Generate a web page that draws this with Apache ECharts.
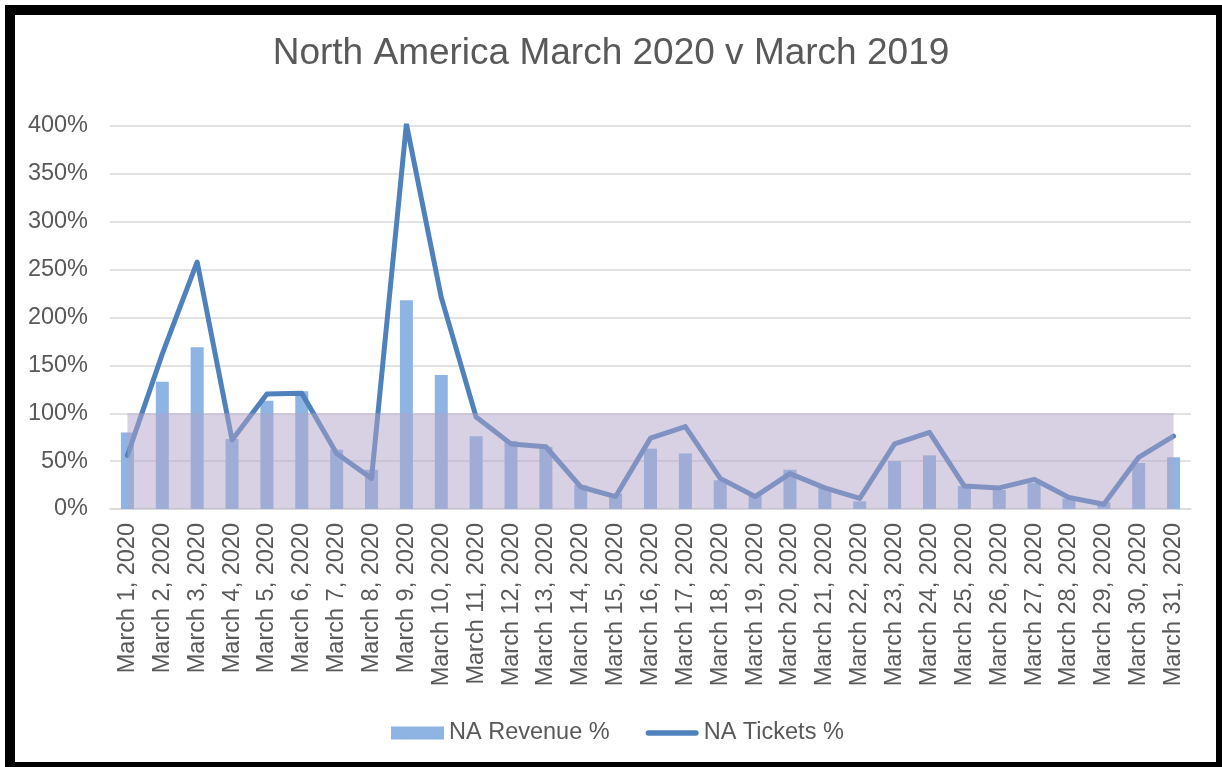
<!DOCTYPE html>
<html>
<head>
<meta charset="utf-8">
<script src="https://cdn.jsdelivr.net/npm/echarts@6/dist/echarts.min.js"></script>
<style>
  html, body { margin: 0; padding: 0; background: #fff; }
  #chart { position: absolute; left: 0; top: 0; width: 1222px; height: 767px; }
  #frame {
    position: absolute; left: 5px; top: 5px; right: 0; bottom: 0;
    border-style: solid; border-color: #000;
    border-width: 10px 6px 5px 10px;
    pointer-events: none;
  }
</style>
</head>
<body>
<div id="chart"></div>
<div id="frame"></div>
<script>
  // categories
  var days = [];
  for (var d = 1; d <= 31; d++) days.push('March ' + d + ', 2020');

  // % of March 2019
  var revenue = [80, 133, 169, 73, 113, 123, 62, 41, 218, 140, 76, 71, 65, 25, 16, 63,
                 58, 30, 14, 41, 22, 8, 50, 56, 24, 20, 27, 11, 7, 48, 54];
  var tickets = [56, 162, 258, 72, 120, 121, 58, 32, 402, 221, 96, 68, 65, 23, 13, 74,
                 86, 32, 13, 37, 22, 11, 68, 80, 24, 22, 31, 12, 5, 54, 76];

  var yTicks = { min: 0, max: 400, step: 50 };
  var baseline = 100; // shaded band up to 100%

  var font = "'Liberation Sans', Arial, sans-serif";
  var grey = '#595959';

  var chartObj = echarts.init(document.getElementById('chart'));
  var option = {
    animation: false,
    title: {
      text: 'North America March 2020 v March 2019',
      left: 'center',
      top: 30,
      textStyle: { fontFamily: font, fontSize: 37, fontWeight: 'normal', color: grey }
    },
    legend: {
      left: 391,
      top: 721,
      padding: 0,
      itemWidth: 53,
      itemHeight: 13,
      itemGap: 36,
      textStyle: { fontFamily: font, fontSize: 23.5, color: grey },
      data: [
        { name: 'NA Revenue %', icon: 'rect' },
        // plain thick line, no marker
        { name: 'NA Tickets %', icon: 'path://M3,0 L54,0 A3,3 0 0 1 54,6 L3,6 A3,3 0 0 1 3,0 Z' }
      ]
    },
    grid: { left: 110, right: 31, top: 126, bottom: 258, containLabel: false },
    xAxis: {
      type: 'category',
      data: days,
      boundaryGap: true,
      axisTick: { show: false },
      axisLine: { lineStyle: { color: '#d9d9d9', width: 1.5 } },
      axisLabel: {
        rotate: 90, interval: 0, margin: 14,
        fontFamily: font, fontSize: 23.5, color: grey
      }
    },
    yAxis: {
      type: 'value',
      min: yTicks.min, max: yTicks.max, interval: yTicks.step,
      axisLine: { show: false },
      axisTick: { show: false },
      splitLine: { lineStyle: { color: '#d9d9d9', width: 1.5 } },
      axisLabel: {
        formatter: '{value}%', margin: 22,
        fontFamily: font, fontSize: 23.5, color: grey
      }
    },
    series: [
      {
        name: 'NA Revenue %',
        type: 'bar',
        data: revenue,
        barWidth: 13,
        itemStyle: { color: '#8db4e2' }
      },
      {
        name: 'NA Tickets %',
        type: 'line',
        data: tickets,
        symbol: 'none',
        showSymbol: false,
        lineStyle: { color: '#4f81bd', width: 5, cap: 'round', join: 'round' },
        itemStyle: { color: '#4f81bd' },
        markArea: {
          silent: true,
          z: 10,
          itemStyle: { color: 'rgba(178,163,199,0.5)' },
          data: [[
            { xAxis: days[0], yAxis: 0 },
            { xAxis: days[days.length - 1], yAxis: baseline }
          ]]
        }
      }
    ]
  };
  chartObj.setOption(option, true);
</script>
</body>
</html>
